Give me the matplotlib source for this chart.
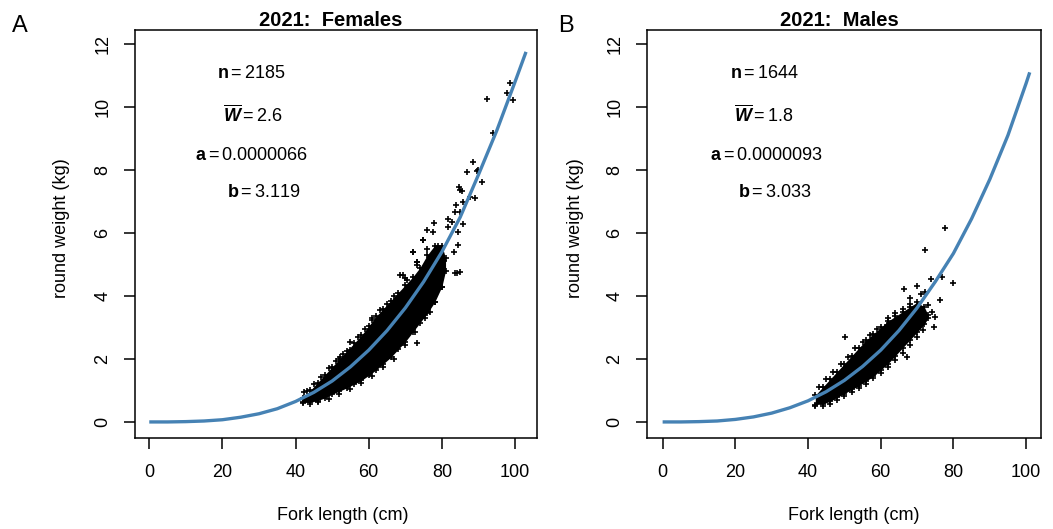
import matplotlib
matplotlib.use("Agg")
import matplotlib.pyplot as plt

plt.rcParams['font.family'] = ['Liberation Sans', 'DejaVu Sans']
plt.rcParams['mathtext.fontset'] = 'custom'
plt.rcParams['mathtext.rm'] = 'Liberation Sans'
plt.rcParams['mathtext.bf'] = 'Liberation Sans:bold'
plt.rcParams['mathtext.it'] = 'Liberation Sans:italic'
plt.rcParams['mathtext.bfit'] = 'Liberation Sans:bold:italic'

# fitted length-weight curves
curve_len_a = [0, 5, 10, 15, 20, 25, 30, 35, 40, 45, 50, 55, 60, 65, 70, 75, 80, 85, 90, 95, 100, 103]
curve_wt_a = [0, 0.0, 0.01, 0.03, 0.07, 0.15, 0.26, 0.42, 0.65, 0.94, 1.3, 1.75, 2.28, 2.9, 3.62, 4.45,
              5.4, 6.5, 7.85, 9.25, 10.8, 11.75]
curve_len_b = [0, 5, 10, 15, 20, 25, 30, 35, 40, 45, 50, 55, 60, 65, 70, 75, 80, 85, 90, 95, 100, 101]
curve_wt_b = [0, 0.0, 0.01, 0.03, 0.08, 0.16, 0.28, 0.45, 0.67, 0.96, 1.32, 1.76, 2.28, 2.9, 3.62, 4.45,
              5.35, 6.45, 7.7, 9.1, 10.75, 11.1]

# dense part of the point clouds: length, lowest and highest weight
core_len_a = [42, 44, 46, 48, 50, 52, 54, 56, 58, 60, 62, 64, 66, 68, 70, 72, 74, 76, 78, 80, 81]
core_lo_a = [0.62, 0.62, 0.68, 0.76, 0.88, 0.98, 1.08, 1.2, 1.32, 1.48, 1.65, 1.85, 2.05, 2.3, 2.55,
             2.85, 3.15, 3.45, 3.8, 4.3, 4.8]
core_hi_a = [0.75, 1.0, 1.25, 1.5, 1.75, 2.0, 2.25, 2.5, 2.75, 3.05, 3.35, 3.6, 3.85, 4.1, 4.35, 4.6,
             4.9, 5.3, 5.6, 5.6, 5.2]
core_len_b = [42, 44, 46, 48, 50, 52, 54, 56, 58, 60, 62, 64, 66, 68, 70, 72, 73]
core_lo_b = [0.55, 0.57, 0.65, 0.78, 0.9, 1.03, 1.15, 1.3, 1.45, 1.65, 1.85, 2.1, 2.35, 2.6, 2.85, 3.1,
             3.3]
core_hi_b = [0.85, 1.1, 1.35, 1.6, 1.85, 2.1, 2.35, 2.6, 2.8, 3.0, 3.2, 3.35, 3.5, 3.65, 3.8, 3.65, 3.4]

# single fish outside the dense part
pts_len_a = [43, 45, 47, 49, 51, 52.2, 53, 54.9, 55, 57, 59, 60.8, 61, 63, 65, 67, 68.6, 70.4, 73.1, 72.2,
             73.1, 74.9, 42, 44, 46, 49, 52, 55, 58, 61, 64, 67, 70, 70, 72.7, 75.4, 76.8, 73.1, 78, 80,
             84.1, 83.6, 85.0, 69.5, 69.9, 72.2, 73.1, 75.9, 77.5, 77.9, 74.9, 81.8, 82.7, 81.8, 83.3,
             84.5, 84.5, 85.9, 83.6, 83.9, 85.0, 85.7, 84.6, 85.5, 87.7, 89.1, 86.8, 89.7, 88.4, 90.9,
             90.0, 85.0, 94.1, 92.3, 97.9, 98.6, 99.4, 42.2, 79, 80.5, 76, 78.5]
pts_wt_a = [0.98, 1.2, 1.42, 1.7, 1.95, 2.07, 2.15, 2.29, 2.55, 2.7, 2.95, 3.24, 3.3, 3.55, 3.75, 4.0,
            4.67, 4.51, 4.98, 5.41, 5.09, 5.78, 0.6, 0.58, 0.62, 0.72, 0.9, 1.05, 1.25, 1.45, 1.75, 2.0,
            2.45, 2.82, 2.87, 3.29, 3.5, 2.5, 3.8, 4.3, 4.72, 4.72, 4.77, 4.67, 4.56, 5.41, 5.09, 6.1,
            6.04, 6.33, 5.78, 6.43, 6.36, 6.2, 5.38, 5.62, 6.04, 6.29, 6.68, 6.89, 6.68, 6.99, 7.45, 7.34,
            7.15, 7.1, 7.93, 7.98, 8.26, 7.63, 8.0, 7.37, 9.18, 10.24, 10.43, 10.77, 10.22, 0.96, 5.6,
            5.1, 5.5, 4.8]
pts_len_b = [43, 45, 47, 49, 51, 53, 55, 56.6, 57, 59, 61.7, 62, 64, 66, 68, 42, 44, 46, 48, 50, 52, 54,
             56, 58, 60, 62, 64, 66, 67.3, 68, 70, 71.7, 74.7, 75, 50.2, 77.7, 72.2, 66.5, 69.9, 73.9,
             76.8, 79.8, 76.3, 72.2, 68.1, 71, 73, 74]
pts_wt_b = [1.1, 1.35, 1.6, 1.85, 2.05, 2.35, 2.55, 2.39, 2.75, 2.95, 3.08, 3.3, 3.45, 3.6, 3.75, 0.5,
            0.52, 0.58, 0.7, 0.82, 0.95, 1.08, 1.22, 1.38, 1.55, 1.75, 1.98, 2.2, 2.07, 2.45, 2.7, 2.92,
            3.03, 3.34, 2.69, 6.15, 5.46, 4.21, 4.32, 4.54, 4.59, 4.4, 3.87, 4.14, 3.93, 4.05, 3.7, 3.5]

titles = ["2021:  Females", "2021:  Males"]
panel_tags = ["A", "B"]
n_fish = ["2185", "1644"]
mean_wt = ["2.6", "1.8"]
coef_a = ["0.0000066", "0.0000093"]
coef_b = ["3.119", "3.033"]
x_ticks = [0, 20, 40, 60, 80, 100]
y_ticks = [0, 2, 4, 6, 8, 10, 12]

W, H = 1053, 529
fig = plt.figure(figsize=(W / 100, H / 100), dpi=100)


def px(x, y):
    return x / W, 1 - y / H


def draw_panel(box, xlim, curve, core, pts, k, text_x, label_x):
    ax = fig.add_axes(box)
    ax.fill_between(core[0], core[1], core[2], color="black", lw=0)
    ax.plot(core[0], core[1], "k+", ms=4.5, mew=1.2)
    ax.plot(core[0], core[2], "k+", ms=4.5, mew=1.2)
    ax.plot(pts[0], pts[1], "k+", ms=4.5, mew=1.2)
    ax.plot(curve[0], curve[1], color="#4682B4", lw=2.4, solid_capstyle="butt")

    ax.set_xlim(*xlim)
    ax.set_ylim(-0.51, 12.46)
    ax.set_xticks(x_ticks)
    ax.set_yticks(y_ticks)
    ax.tick_params(length=8, width=1.1, labelsize=13)
    ax.tick_params(axis="x", pad=11)
    ax.tick_params(axis="y", labelrotation=90, pad=9)
    for t in ax.get_yticklabels():
        t.set_va("center")
    for s in ax.spines.values():
        s.set_linewidth(1.1)

    rows = [r"$\mathbf{n} = %s$" % n_fish[k],
            r"$\overline{\mathbfit{W}} = %s$" % mean_wt[k],
            r"$\mathbf{a} = %s$" % coef_a[k],
            r"$\mathbf{b} = %s$" % coef_b[k]]
    rows_y = [73, 115, 155, 193]
    for r, yy, xx in zip(rows, rows_y, text_x):
        fig.text(*px(xx, yy), r, ha="center", va="center", fontsize=13)

    cx = (box[0] + box[2] / 2) * W
    fig.text(*px(cx - 5, 21), titles[k], ha="center", va="center", fontsize=14.5, fontweight="bold")
    fig.text(*px(label_x[0], 515), "Fork length (cm)", ha="center", va="center", fontsize=13)
    fig.text(*px(label_x[1], 228), "round weight (kg)", ha="center", va="center",
             rotation=90, fontsize=13)
    fig.text(*px(label_x[2], 26), panel_tags[k], ha="center", va="center", fontsize=17)
    return ax


draw_panel([135 / W, 91 / H, 402 / W, 408.5 / H], (-3.9, 106.0),
           (curve_len_a, curve_wt_a), (core_len_a, core_lo_a, core_hi_a), (pts_len_a, pts_wt_a),
           0, [251, 253, 251, 264], [343, 62, 20])
draw_panel([647 / W, 91 / H, 394 / W, 408.5 / H], (-4.3, 104.1),
           (curve_len_b, curve_wt_b), (core_len_b, core_lo_b, core_hi_b), (pts_len_b, pts_wt_b),
           1, [765, 764, 766, 775], [854, 575, 566])

fig.savefig("out.png", dpi=100)
